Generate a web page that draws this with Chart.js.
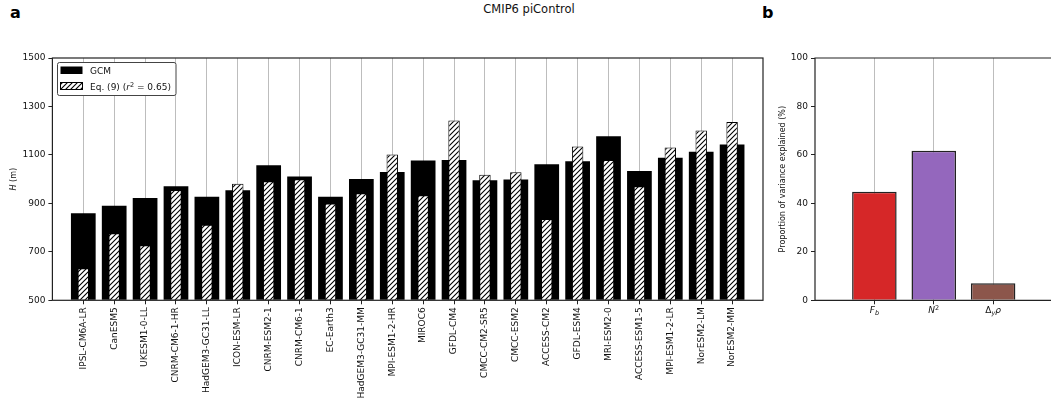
<!DOCTYPE html>
<html>
<head>
<meta charset="utf-8">
<script src="https://cdn.jsdelivr.net/npm/chart.js@4.4.0/dist/chart.umd.min.js"></script>
<style>
html, body { margin: 0; padding: 0; background: #fff; overflow: hidden; width: 1051px; height: 408px; position: relative; font-family: "DejaVu Sans", sans-serif; }
#wa { position: absolute; left: 0; top: 0; width: 780px; height: 408px; }
#wb { position: absolute; left: 760px; top: 0; width: 300px; height: 408px; }
.lbl { position: absolute; font-weight: bold; font-size: 16px; line-height: 16px; color: #000; }
#ttl { position: absolute; top: 3px; left: 0; width: 1058px; text-align: center; font-size: 11.5px; line-height: 12px; color: #111; }
</style>
</head>
<body>
<div class="lbl" style="left:10px;top:5px">a</div>
<div class="lbl" style="left:762px;top:5px">b</div>
<div id="ttl">CMIP6 piControl</div>
<div id="wa"><canvas id="ga"></canvas></div>
<div id="wb"><canvas id="gb"></canvas></div>
<script>
// panel a
const models = ['IPSL-CM6A-LR', 'CanESM5', 'UKESM1-0-LL', 'CNRM-CM6-1-HR', 'HadGEM3-GC31-LL', 'ICON-ESM-LR',
  'CNRM-ESM2-1', 'CNRM-CM6-1', 'EC-Earth3', 'HadGEM3-GC31-MM', 'MPI-ESM1-2-HR', 'MIROC6', 'GFDL-CM4',
  'CMCC-CM2-SR5', 'CMCC-ESM2', 'ACCESS-CM2', 'GFDL-ESM4', 'MRI-ESM2-0', 'ACCESS-ESM1-5', 'MPI-ESM1-2-LR',
  'NorESM2-LM', 'NorESM2-MM']
const gcm = [859, 890, 922, 971, 927, 954, 1057, 1011, 927, 1001, 1030, 1077, 1079,
  995, 999, 1061, 1074, 1177, 1034, 1088, 1113, 1143]
const eq9 = [632, 777, 727, 955, 812, 981, 991, 1000, 900, 942, 1102, 934, 1242,
  1018, 1028, 836, 1135, 1079, 971, 1131, 1201, 1236]
const hTicks = [500, 700, 900, 1100, 1300, 1500]

// panel b
const drivers = ['Fb', 'N2', 'dyrho']
const varExpl = [44.8, 61.7, 7.0]
const driverColors = ['#d62728', '#9467bd', '#8c564b']
const pTicks = [0, 20, 40, 60, 80, 100]

const FONT = 'DejaVu Sans'
const ink = '#111'

// hatch pattern ////
const pc = document.createElement('canvas')
pc.width = 5; pc.height = 5
const px = pc.getContext('2d')
px.fillStyle = '#fff'
px.fillRect(0, 0, 5, 5)
px.strokeStyle = '#000'
px.lineWidth = 1.1
px.beginPath()
px.moveTo(-1, 6); px.lineTo(6, -1)
px.moveTo(-1, 1); px.lineTo(1, -1)
px.moveTo(4, 6); px.lineTo(6, 4)
px.stroke()
const hatch = px.createPattern(pc, 'repeat')

// draws a row of text pieces centred on x
function runs(ctx, parts, x, y) {
  let w = 0
  parts.forEach(p => {
    ctx.font = (p.it ? 'italic ' : '') + (p.s || 9) + 'px "' + FONT + '"'
    p.w = ctx.measureText(p.t).width
    w += p.w
  })
  let cx = x - w / 2
  parts.forEach(p => {
    ctx.font = (p.it ? 'italic ' : '') + (p.s || 9) + 'px "' + FONT + '"'
    ctx.fillText(p.t, cx, y + (p.dy || 0))
    cx += p.w
  })
}

const frameA = {
  id: 'frameA',
  afterDraw(chart) {
    const { ctx, chartArea: a } = chart
    ctx.save()
    ctx.strokeStyle = '#222'
    ctx.lineWidth = 1.2
    ctx.strokeRect(a.left, a.top, a.right - a.left, a.bottom - a.top)

    // legend
    ctx.fillStyle = '#fff'
    ctx.strokeStyle = '#444'
    ctx.lineWidth = 1
    ctx.beginPath()
    ctx.roundRect(57.5, 62.5, 118.5, 33, 2)
    ctx.fill(); ctx.stroke()
    ctx.fillStyle = '#000'
    ctx.fillRect(60.5, 66.5, 22, 7.5)
    ctx.fillStyle = hatch
    ctx.fillRect(60.5, 82.5, 22, 7)
    ctx.strokeStyle = '#000'
    ctx.strokeRect(60.5, 82.5, 22, 7)
    ctx.fillStyle = ink
    ctx.textBaseline = 'alphabetic'
    ctx.font = '9px "' + FONT + '"'
    ctx.fillText('GCM', 90, 74)
    const parts = [{ t: 'Eq. (9) (' }, { t: 'r', it: true }, { t: '2', s: 6.5, dy: -3.5 }, { t: ' = 0.65)' }]
    let w = 0
    parts.forEach(p => { ctx.font = (p.it ? 'italic ' : '') + (p.s || 9) + 'px "' + FONT + '"'; p.w = ctx.measureText(p.t).width; w += p.w })
    runs(ctx, parts, 90 + w / 2, 90)

    // y title
    ctx.translate(14, (a.top + a.bottom) / 2)
    ctx.rotate(-Math.PI / 2)
    ctx.textBaseline = 'middle'
    runs(ctx, [{ t: 'H', it: true, s: 8 }, { t: ' (m)', s: 8 }], 0, 0)
    ctx.restore()
  }
}

const frameB = {
  id: 'frameB',
  afterDraw(chart) {
    const { ctx, chartArea: a } = chart
    ctx.save()
    ctx.strokeStyle = '#222'
    ctx.lineWidth = 1.2
    ctx.beginPath()
    ctx.moveTo(a.right + 5, a.top); ctx.lineTo(a.left, a.top); ctx.lineTo(a.left, a.bottom); ctx.lineTo(a.right + 5, a.bottom)
    ctx.stroke()

    // x labels with math
    const xs = chart.scales.x
    ctx.fillStyle = ink
    ctx.textBaseline = 'middle'
    const labs = [
      [{ t: 'F', it: true }, { t: 'b', it: true, s: 6.5, dy: 2.5 }],
      [{ t: 'N', it: true }, { t: '2', s: 6.5, dy: -3 }],
      [{ t: 'Δ' }, { t: 'y', it: true, s: 6.5, dy: 2.5 }, { t: 'ρ', it: true }]
    ]
    labs.forEach((l, i) => runs(ctx, l, xs.getPixelForValue(i), 311))

    // y title
    ctx.translate(23, (a.top + a.bottom) / 2)
    ctx.rotate(-Math.PI / 2)
    runs(ctx, [{ t: 'Proportion of variance explained (%)', s: 8 }], 0, 0)
    ctx.restore()
  }
}

const tickFont = { family: FONT, size: 9 }

new Chart(document.getElementById('ga'), {
  type: 'bar',
  data: {
    datasets: [{
      label: 'GCM',
      data: gcm.map((v, i) => ({ x: i, y: v })),
      backgroundColor: '#000',
      borderColor: '#000',
      borderWidth: 0,
      barPercentage: 0.8,
      categoryPercentage: 1,
      grouped: false,
      base: 500,
      order: 2
    }, {
      label: 'Eq. (9) (r2 = 0.65)',
      data: eq9.map((v, i) => ({ x: i, y: v })),
      backgroundColor: hatch,
      borderColor: '#000',
      borderWidth: 1,
      barPercentage: 0.37,
      categoryPercentage: 1,
      grouped: false,
      base: 500,
      order: 1
    }]
  },
  options: {
    responsive: true,
    maintainAspectRatio: false,
    animation: false,
    layout: { padding: { top: 58, right: 17, left: 0, bottom: 0 } },
    plugins: { legend: { display: false }, tooltip: { enabled: false } },
    scales: {
      x: {
        type: 'linear',
        min: -1,
        max: 22,
        offset: false,
        afterBuildTicks(s) { s.ticks = models.map((_, i) => ({ value: i })) },
        afterFit(s) { s.height = 107.7 },
        border: { display: false },
        grid: { offset: false, color: '#bdbdbd', lineWidth: 1, drawTicks: true, tickLength: 4, tickColor: '#222' },
        ticks: {
          autoSkip: false,
          minRotation: 90,
          maxRotation: 90,
          padding: 3,
          color: ink,
          font: { family: FONT, size: 9 },
          callback: (v) => models[v]
        }
      },
      y: {
        min: 500,
        max: 1500,
        afterBuildTicks(s) { s.ticks = hTicks.map(v => ({ value: v })) },
        afterFit(s) { s.width = 52.4 },
        border: { display: false },
        grid: { drawOnChartArea: false, drawTicks: true, tickLength: 4, tickColor: '#222' },
        ticks: { color: ink, font: tickFont, padding: 3, callback: (v) => String(v) }
      }
    }
  },
  plugins: [frameA]
})

new Chart(document.getElementById('gb'), {
  type: 'bar',
  data: {
    datasets: [{
      data: varExpl.map((v, i) => ({ x: i, y: v })),
      backgroundColor: driverColors,
      borderColor: '#222',
      borderWidth: 1.5,
      barPercentage: 0.75,
      categoryPercentage: 1
    }]
  },
  options: {
    responsive: true,
    maintainAspectRatio: false,
    animation: false,
    layout: { padding: { top: 58, right: 7.5, left: 0, bottom: 0 } },
    plugins: { legend: { display: false }, tooltip: { enabled: false } },
    scales: {
      x: {
        type: 'linear',
        min: -1,
        max: 3,
        offset: false,
        afterBuildTicks(s) { s.ticks = drivers.map((_, i) => ({ value: i })) },
        afterFit(s) { s.height = 107.7 },
        border: { display: false },
        grid: { offset: false, color: '#bdbdbd', lineWidth: 1, drawTicks: true, tickLength: 4, tickColor: '#222' },
        ticks: { autoSkip: false, maxRotation: 0, callback: () => '' }
      },
      y: {
        min: 0,
        max: 100,
        afterBuildTicks(s) { s.ticks = pTicks.map(v => ({ value: v })) },
        afterFit(s) { s.width = 55 },
        border: { display: false },
        grid: { drawOnChartArea: false, drawTicks: true, tickLength: 4, tickColor: '#222' },
        ticks: { color: ink, font: tickFont, padding: 3 }
      }
    }
  },
  plugins: [frameB]
})
</script>
</body>
</html>
